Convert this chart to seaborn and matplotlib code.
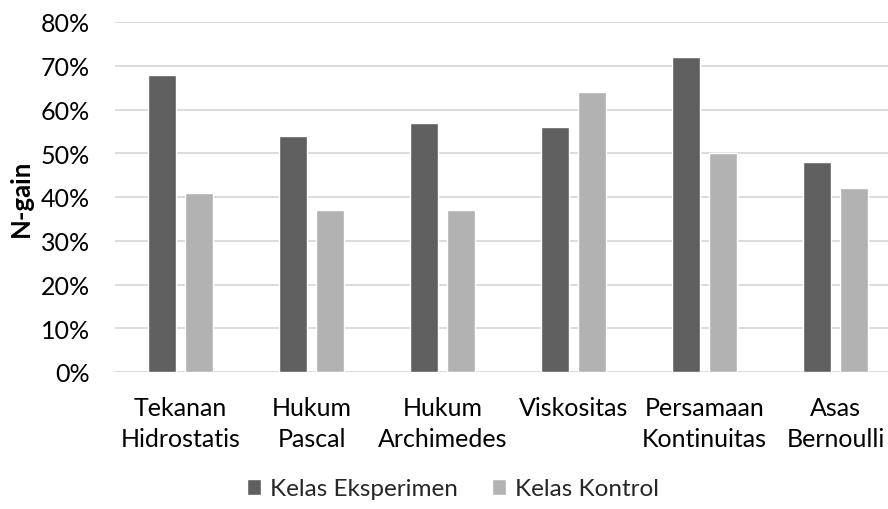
import pandas as pd
import matplotlib
matplotlib.use('Agg')
import matplotlib.pyplot as plt
import seaborn as sns
from matplotlib.ticker import PercentFormatter, MultipleLocator

# ── data ─────────────────────────────────────────────────────
categories = ['Tekanan\nHidrostatis', 'Hukum\nPascal', 'Hukum\nArchimedes',
              'Viskositas', 'Persamaan\nKontinuitas', 'Asas\nBernoulli']
eksperimen = [68, 54, 57, 56, 72, 48]
kontrol = [41, 37, 37, 64, 50, 42]
series_names = ['Kelas Eksperimen', 'Kelas Kontrol']
series_colors = ['#5f5f5f', '#b2b2b2']

df = pd.DataFrame({
    'materi': categories * 2,
    'kelas': [series_names[0]] * len(categories) + [series_names[1]] * len(categories),
    'ngain': eksperimen + kontrol,
})

sns.set_style('white')
plt.rcParams['font.family'] = ['Lato', 'DejaVu Sans']

fig = plt.figure(figsize=(8.88, 5.10), dpi=100)
ax = fig.add_axes([115 / 888, 1 - 373 / 510, 786 / 888, 350 / 510])

sns.barplot(data=df, x='materi', y='ngain', hue='kelas', order=categories,
            hue_order=series_names, palette=series_colors,
            width=0.565, gap=0.22, saturation=1, ax=ax, legend=True)

ax.set_xlim(-0.5, len(categories) - 0.5)
ax.set_ylim(0, 80)
ax.yaxis.set_major_locator(MultipleLocator(10))
ax.yaxis.set_major_formatter(PercentFormatter(xmax=100, decimals=0))
ax.grid(axis='y', color='#d9d9d9', linewidth=1.3)
ax.set_axisbelow(True)
for side in ['top', 'right', 'left', 'bottom']:
    ax.spines[side].set_visible(False)
ax.axhline(0, color='#d9d9d9', linewidth=1.3, zorder=0)

ax.tick_params(axis='both', length=0, labelsize=18, colors='black')
ax.tick_params(axis='x', pad=17)
ax.tick_params(axis='y', pad=18)
for lbl in ax.get_xticklabels():
    lbl.set_linespacing(1.45)

ax.set_xlabel('')
ax.set_ylabel('N-gain', fontsize=18.5, fontweight='bold', color='black')
ax.yaxis.set_label_coords(-0.104, 0.5)

handles, labels = ax.get_legend_handles_labels()
ax.legend_.remove()
fig.legend(handles, labels, loc='center', bbox_to_anchor=(0.51, 20 / 510),
           ncol=2, frameon=False, fontsize=17.5, handlelength=0.6,
           handleheight=0.6, handletextpad=0.35, columnspacing=1.4)

plt.savefig('out.png', dpi=100)
plt.close()
